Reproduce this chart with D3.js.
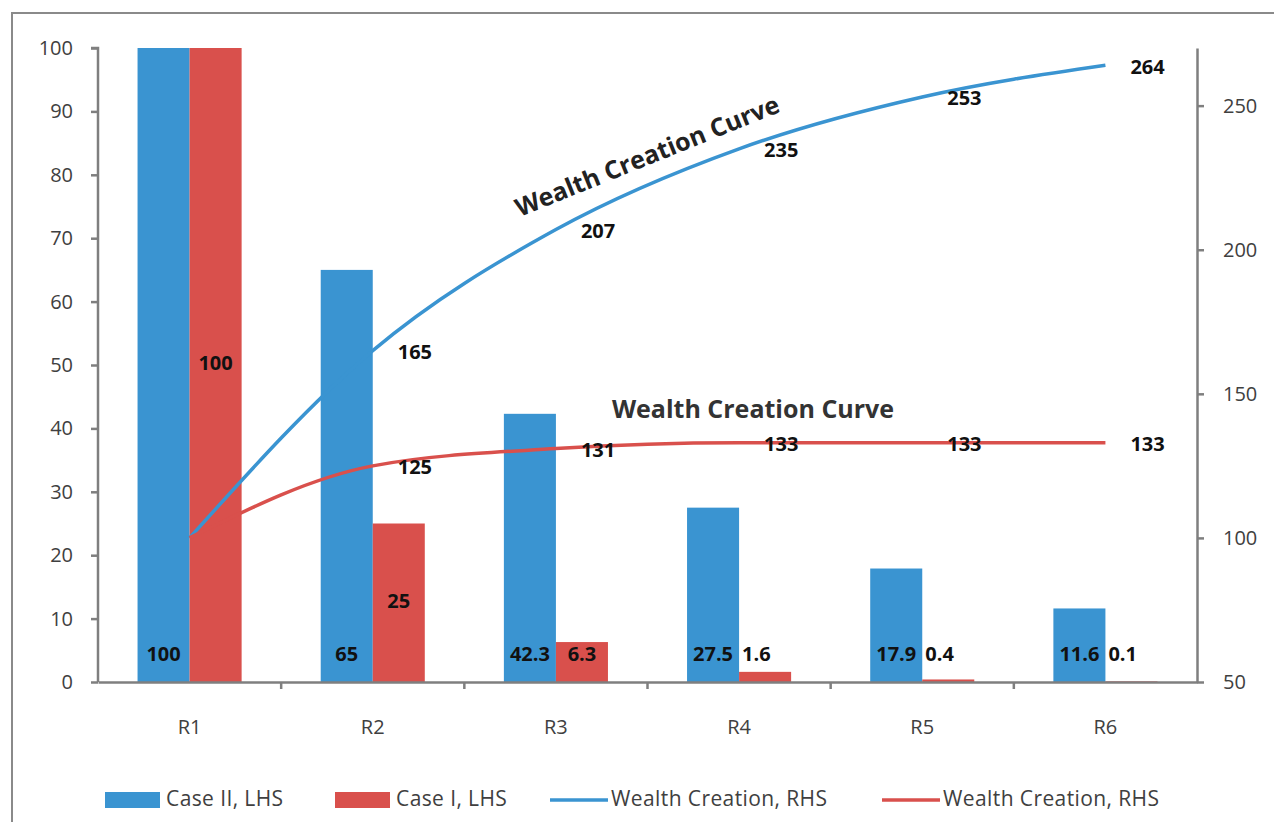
<!DOCTYPE html>
<html>
<head>
<meta charset="utf-8">
<script src="https://cdn.jsdelivr.net/npm/d3@7"></script>
<style>
    body { margin: 0; background: #fff; }
    svg { font-family: "Open Sans", sans-serif; }
</style>
</head>
<body>
<svg id="chart" width="1274" height="822"></svg>
<script>
const categories = ['R1', 'R2', 'R3', 'R4', 'R5', 'R6']
const caseII = [100, 65, 42.3, 27.5, 17.9, 11.6]
const caseI = [100, 25, 6.3, 1.6, 0.4, 0.1]
const wealthII = [100, 165, 207, 235, 253, 264]
const wealthI = [100, 125, 131, 133, 133, 133]
const leftTicks = [0, 10, 20, 30, 40, 50, 60, 70, 80, 90, 100]
const rightTicks = [50, 100, 150, 200, 250]

const BLUE = '#3a94d1', RED = '#d9504c'
const AXIS = '#7f7f7f', TEXT = '#404040'

const svg = d3.select('#chart')
const plotLeft = 98, plotRight = 1197, plotTop = 48, plotBottom = 682

// outer frame
svg.append('rect')
    .attr('x', 12).attr('y', 13).attr('width', 1300).attr('height', 900)
    .attr('fill', 'none').attr('stroke', '#8a8a8a').attr('stroke-width', 2)

const x = d3.scaleBand().domain(categories).range([plotLeft, plotRight])
const xBar = d3.scaleBand().domain(['II', 'I']).range([0, x.bandwidth()])
    .paddingOuter(0.76).paddingInner(0)
const y = d3.scaleLinear().domain([0, 100]).range([plotBottom, plotTop])
const y2 = d3.scaleLinear().domain([50, 270]).range([plotBottom, plotTop])

const g = svg.append('g')

// bars
const bars = [{ key: 'II', vals: caseII, color: BLUE }, { key: 'I', vals: caseI, color: RED }]
bars.forEach(b => {
    g.selectAll(null).data(b.vals).enter().append('rect')
        .attr('x', (d, i) => x(categories[i]) + xBar(b.key))
        .attr('width', xBar.bandwidth())
        .attr('y', d => y(d))
        .attr('height', d => y(0) - y(d))
        .attr('fill', b.color)
})

// axes
const axisLeft = g.append('g').attr('transform', `translate(${plotLeft},0)`)
    .call(d3.axisLeft(y).tickValues(leftTicks).tickSize(7).tickSizeOuter(0).tickPadding(18))
const axisRight = g.append('g').attr('transform', `translate(${plotRight},0)`)
    .call(d3.axisRight(y2).tickValues(rightTicks).tickSize(7).tickSizeOuter(0).tickPadding(19))
const axisBottom = g.append('g').attr('transform', `translate(0,${plotBottom})`)
    .call(d3.axisBottom(x).tickSize(0).tickPadding(38))
// category boundary ticks
axisBottom.selectAll('.bound').data(categories.slice(1)).enter().append('line')
    .attr('class', 'bound')
    .attr('x1', c => x(c)).attr('x2', c => x(c))
    .attr('y1', 0).attr('y2', 7)
;[axisLeft, axisRight, axisBottom].forEach(a => {
    a.select('.domain').attr('stroke', AXIS).attr('stroke-width', 2.5)
    a.selectAll('line').attr('stroke', AXIS).attr('stroke-width', 2.5)
    a.selectAll('text').attr('fill', TEXT).style('font-size', '20px')
        .style('font-family', '"Open Sans", sans-serif')
})
axisLeft.select('.domain').attr('d', `M-7,${plotTop}H0V${plotBottom}`)

// lines
const line = d3.line()
    .x((d, i) => x(categories[i]) + x.bandwidth() / 2)
    .y(d => y2(d))
    .curve(d3.curveMonotoneX)
g.append('path').datum(wealthII).attr('d', line)
    .attr('fill', 'none').attr('stroke', BLUE).attr('stroke-width', 3.5)
g.append('path').datum(wealthI).attr('d', line)
    .attr('fill', 'none').attr('stroke', RED).attr('stroke-width', 3.5)

const labelStyle = sel => sel.attr('fill', '#111').style('font-size', '20px')
    .style('font-weight', 'bold').attr('dominant-baseline', 'middle')

// bar labels
g.selectAll(null).data(caseII).enter().append('text')
    .attr('x', (d, i) => x(categories[i]) + xBar('II') + xBar.bandwidth() / 2)
    .attr('y', plotBottom - 26)
    .attr('text-anchor', 'middle')
    .text(d => d)
    .call(labelStyle)
g.selectAll(null).data(caseI).enter().append('text')
    .attr('x', (d, i) => d > 5 ? x(categories[i]) + xBar('I') + xBar.bandwidth() / 2
        : x(categories[i]) + xBar('I') + 3)
    .attr('y', d => Math.min((y(d) + y(0)) / 2, plotBottom - 26))
    .attr('text-anchor', d => d > 5 ? 'middle' : 'start')
    .text(d => d)
    .call(labelStyle)

// line labels
const lineLabels = [wealthII, wealthI]
lineLabels.forEach(vals => {
    g.selectAll(null).data(vals.slice(1)).enter().append('text')
        .attr('x', (d, i) => x(categories[i + 1]) + x.bandwidth() / 2 + 25)
        .attr('y', d => y2(d) + 3)
        .text(d => d)
        .call(labelStyle)
})

// annotations
g.append('text')
    .attr('transform', 'translate(648,158) rotate(-22)')
    .attr('text-anchor', 'middle').attr('dominant-baseline', 'middle')
    .attr('fill', '#222').style('font-size', '25px').style('font-weight', 'bold')
    .text('Wealth Creation Curve')
g.append('text')
    .attr('x', 753).attr('y', 411)
    .attr('text-anchor', 'middle').attr('dominant-baseline', 'middle')
    .attr('fill', '#333').style('font-size', '25px').style('font-weight', 'bold')
    .text('Wealth Creation Curve')

// legend
const legend = [
    { label: 'Case II, LHS', color: BLUE, type: 'rect', x: 105 },
    { label: 'Case I, LHS', color: RED, type: 'rect', x: 335 },
    { label: 'Wealth Creation, RHS', color: BLUE, type: 'line', x: 550 },
    { label: 'Wealth Creation, RHS', color: RED, type: 'line', x: 882 }
]
const lg = svg.append('g').attr('transform', 'translate(0,800)')
legend.forEach(l => {
    if (l.type === 'rect') {
        lg.append('rect').attr('x', l.x).attr('y', -8).attr('width', 55).attr('height', 16).attr('fill', l.color)
    } else {
        lg.append('line').attr('x1', l.x).attr('x2', l.x + 58).attr('y1', 0).attr('y2', 0)
            .attr('stroke', l.color).attr('stroke-width', 3.5)
    }
    lg.append('text').attr('x', l.x + 61).attr('y', 0).attr('dominant-baseline', 'middle')
        .attr('fill', TEXT).style('font-size', '21px').style('letter-spacing', '0.4px').text(l.label)
})
</script>
</body>
</html>
